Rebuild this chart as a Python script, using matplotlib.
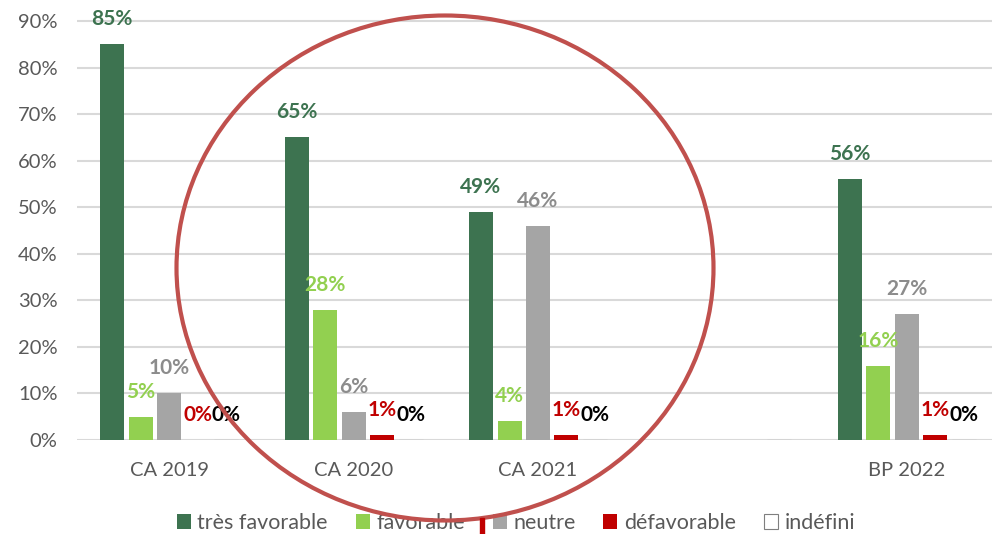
import numpy as np
import matplotlib.pyplot as plt
from matplotlib.patches import Ellipse, Rectangle

plt.rcParams['font.family'] = ['Lato', 'DejaVu Sans']

# données
categories = ['CA 2019', 'CA 2020', 'CA 2021', '', 'BP 2022']
series = ['très favorable', 'favorable', 'neutre', 'défavorable', 'indéfini']
tres_favorable = [85, 65, 49, np.nan, 56]
favorable = [5, 28, 4, np.nan, 16]
neutre = [10, 6, 46, np.nan, 27]
defavorable = [0, 1, 1, np.nan, 1]
indefini = [0, 0, 0, np.nan, 0]
values = [tres_favorable, favorable, neutre, defavorable, indefini]

bar_colors = ['#3d7350', '#92d050', '#a5a5a5', '#c00000', 'white']
label_colors = ['#3d7350', '#92d050', '#8c8c8c', '#c00000', 'black']
edge_colors = ['none', 'none', 'none', 'none', '#7f7f7f']

fig = plt.figure(figsize=(9.92, 5.34), dpi=100)
ax = fig.add_axes([77 / 992, 1 - 440 / 534, 922 / 992, 419 / 534 * 100 / 90])

x = np.arange(len(categories))
step = 28.5 / 184.5
width = 24 / 184.5
for i, (vals, name) in enumerate(zip(values, series)):
    pos = x + (i - 2) * step
    ax.bar(pos, np.nan_to_num(vals), width, color=bar_colors[i], edgecolor=edge_colors[i],
           linewidth=0.8 if i == 4 else 0, label=name, zorder=3)
    for p, v in zip(pos, vals):
        if np.isnan(v):
            continue
        ax.annotate('{:.0f}%'.format(v), (p, v), xytext=(0, 18), textcoords='offset points',
                    ha='center', va='center', fontsize=15, fontweight='bold',
                    color=label_colors[i], zorder=4)

ax.set_xlim(-0.5, len(categories) - 0.5)
ax.set_ylim(0, 100)
ax.set_yticks(np.arange(0, 91, 10))
ax.set_yticklabels(['{}%'.format(t) for t in range(0, 91, 10)])
ax.set_xticks(x)
ax.set_xticklabels(categories)
ax.tick_params(axis='both', length=0, labelsize=14.5, colors='#595959')
ax.tick_params(axis='x', pad=16)
ax.tick_params(axis='y', pad=14)
for s in ax.spines.values():
    s.set_visible(False)
ax.yaxis.grid(True, color='#d9d9d9', linewidth=1.5, zorder=0)
ax.set_axisbelow(True)

leg = fig.legend(loc='center', bbox_to_anchor=(0.52, 1 - 523 / 534), ncol=5, frameon=False,
                 fontsize=15.5, handlelength=0.65, handleheight=0.65, handletextpad=0.3,
                 columnspacing=1.3, labelcolor='#595959')

# cercle rouge
fig.add_artist(Ellipse((445 / 992, 1 - 268 / 534), 537 / 992, 505 / 534,
                       transform=fig.transFigure, fill=False, edgecolor='#c0504d',
                       linewidth=3, zorder=10))
# petit trait rouge dans la légende
fig.add_artist(Rectangle((480 / 992, 1 - 534 / 534), 4 / 992, 16 / 534,
                         transform=fig.transFigure, color='#c00000', zorder=11))

fig.savefig('out.png', dpi=100)
